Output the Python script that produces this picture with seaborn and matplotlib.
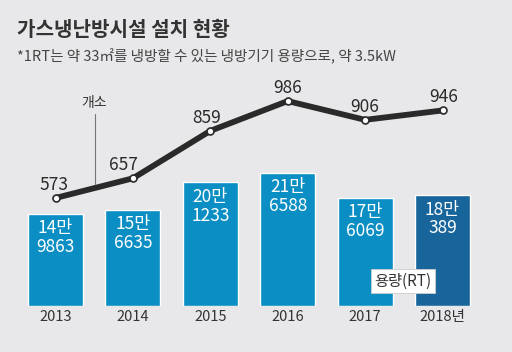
import matplotlib
matplotlib.use("Agg")
import matplotlib.pyplot as plt
import seaborn as sns
import pandas as pd
import numpy as np

years = ["2013", "2014", "2015", "2016", "2017", "2018년"]
capacity = [149863, 156635, 201233, 216588, 176069, 180389]
cap_top = ["14만", "15만", "20만", "21만", "17만", "18만"]
cap_bottom = ["9863", "6635", "1233", "6588", "6069", "389"]
sites = [573, 657, 859, 986, 906, 946]
bar_colors = ["#0b8ec3", "#0b8ec3", "#0b8ec3", "#0b8ec3", "#0b8ec3", "#17659a"]

title = "가스냉난방시설 설치 현황"
subtitle = "*1RT는 약 33㎡를 냉방할 수 있는 냉방기기 용량으로, 약 3.5kW"
line_note = "개소"
legend_label = "용량(RT)"

sns.set_theme(style="white")
plt.rcParams['font.family'] = ['Noto Sans CJK KR', 'DejaVu Sans']

BG = "#e8e8ea"
W, H = 512, 352
fig = plt.figure(figsize=(W / 100, H / 100), dpi=100, facecolor=BG)

ax = fig.add_axes([0, 46 / H, 1, 306 / H])
ax.set_facecolor(BG)
df = pd.DataFrame({"year": years, "cap": capacity})
sns.barplot(data=df, x="year", y="cap", hue="year", palette=bar_colors,
            legend=False, width=0.71, ax=ax, saturation=1)
ax.set_xlim(-55.5 / 77.4, (W - 55.5) / 77.4)
ax.set_ylim(0, 306 * 1627)
ax.set_xlabel("")
ax.set_ylabel("")
ax.set_yticks([])
ax.set_xticks(range(len(years)))
ax.set_xticklabels(years, fontsize=10.5, color="#333333")
ax.tick_params(axis="x", length=0, pad=3)
for s in ax.spines.values():
    s.set_visible(False)

for i, (v, t, b) in enumerate(zip(capacity, cap_top, cap_bottom)):
    ax.annotate(f"{t}\n{b}", xy=(i, v), xytext=(0, -4), textcoords="offset points",
                ha="center", va="top", color="white", fontsize=12.5,
                linespacing=1.05)

ax2 = ax.twinx()
ax2.set_facecolor("none")
sns.lineplot(x=np.arange(len(sites)), y=sites, ax=ax2, color="#2a2a2a", lw=4.2,
             marker="o", markersize=5, markerfacecolor="white",
             markeredgecolor="#2a2a2a", markeredgewidth=1.2)
ax2.set_xlim(ax.get_xlim())
ax2.set_ylim(113, 1416.5)
ax2.set_yticks([])
ax2.set_ylabel("")
for s in ax2.spines.values():
    s.set_visible(False)

dx = [-2, -9, -4, 0, 0, 1]
for i, v in enumerate(sites):
    ax2.annotate(f"{v}", xy=(i, v), xytext=(dx[i] * 0.72, 9.4), textcoords="offset points",
                 ha="center", va="center", color="#2a2a2a", fontsize=12.5)

def fx(x):
    return x / W

def fy(y):
    return 1 - y / H

fig.text(fx(17), fy(29), title, fontsize=14.5, fontweight="bold", color="#333333",
         ha="left", va="center")
fig.text(fx(17), fy(57), subtitle, fontsize=10.5, color="#444444",
         ha="left", va="center")

fig.text(fx(94), fy(103), line_note, fontsize=10, color="#333333", ha="center", va="center")
fig.add_artist(plt.Line2D([fx(95), fx(95)], [fy(114), fy(184)], color="#777777", lw=0.8))

fig.text(fx(403), fy(281), legend_label, fontsize=11, color="#333333", ha="center", va="center",
         bbox=dict(boxstyle="square,pad=0.25", fc="white", ec="#cccccc", lw=0.6))

fig.savefig("out.png", dpi=100, facecolor=BG)
